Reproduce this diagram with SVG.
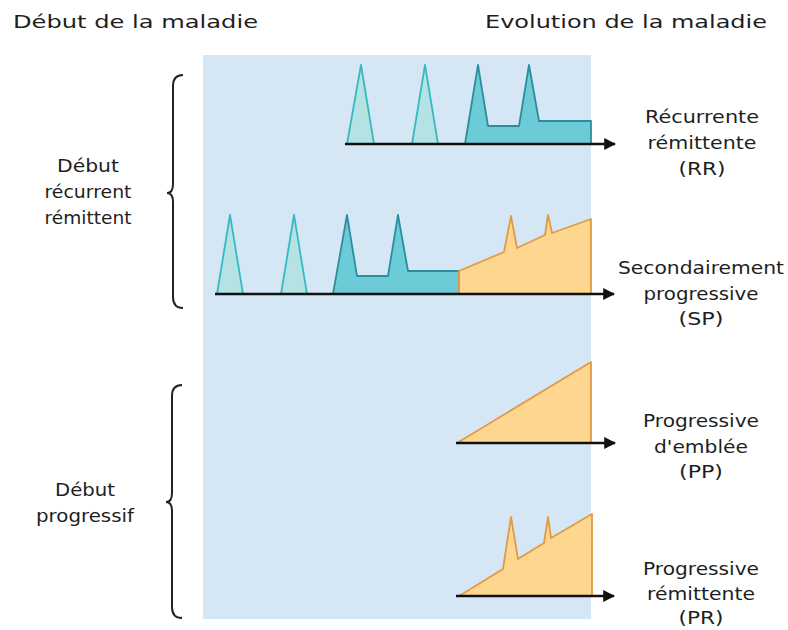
<svg xmlns="http://www.w3.org/2000/svg" width="788" height="630" viewBox="0 0 788 630">
<defs>
<style>
.t{font-family:"DejaVu Sans",Verdana,sans-serif;font-size:17.5px;fill:#1e1e1e}
.h{font-family:"DejaVu Sans",Verdana,sans-serif;font-size:18.5px;fill:#1e1e1e}
.lt{fill:#b5e3e3;stroke:#35b9c2;stroke-width:1.8;stroke-linejoin:round}
.dk{fill:#6ccbd6;stroke:#2a8e9e;stroke-width:1.8;stroke-linejoin:round}
.or{fill:#fdd68f;stroke:#e39a45;stroke-width:1.8;stroke-linejoin:round}
.ax{stroke:#111;stroke-width:2.5;fill:none}
.br{stroke:#222;stroke-width:2;fill:none}
</style>
<marker id="arr" viewBox="0 0 10 10" refX="9" refY="5" markerWidth="12" markerHeight="12" markerUnits="userSpaceOnUse" orient="auto">
<path d="M0,0 L10,5 L0,10 z" fill="#111"/>
</marker>
</defs>
<rect x="203" y="55" width="388" height="564" fill="#d5e6f5"/>
<text class="h" x="13" y="28" textLength="245" lengthAdjust="spacingAndGlyphs">Début de la maladie</text>
<text class="h" x="485" y="28" textLength="282" lengthAdjust="spacingAndGlyphs">Evolution de la maladie</text>

<g id="rr">
<polygon class="lt" points="347,144 361,65 374,144"/>
<polygon class="lt" points="412,144 425,65 438,144"/>
<polygon class="dk" points="465,144 478,65 488,126 519,126 529,65 539,121 591,121 591,144"/>
</g>
<g id="sp">
<polygon class="lt" points="217,294 230,215 243,294"/>
<polygon class="lt" points="281,294 294,215 307,294"/>
<polygon class="dk" points="333,294 347,215 357,276 388,276 398,215 408,271 459,271 459,294"/>
<polygon class="or" points="459,271 504,252 511,216 517,248 545,235 548,215 552,233 591,219 591,294 459,294"/>
</g>
<g id="pp">
<polygon class="or" points="457,443 591,362 591,443"/>
</g>
<g id="pr">
<polygon class="or" points="459,596 503,569 511,517 518,559 544,543 548,517 551,538 592,514 592,596"/>
</g>

<g id="connectors">
<line class="ax" x1="345" y1="144" x2="615" y2="144" marker-end="url(#arr)"/>
<line class="ax" x1="215" y1="294" x2="614" y2="294" marker-end="url(#arr)"/>
<line class="ax" x1="456" y1="443" x2="615" y2="443" marker-end="url(#arr)"/>
<line class="ax" x1="456" y1="596" x2="614" y2="596" marker-end="url(#arr)"/>
</g>

<g id="brace1">
<path class="br" d="M183,75 Q173,75 173,86 L173,184 Q173,193 167,193 Q173,193 173,202 L173,297 Q173,308 183,308"/>
</g>
<g id="brace2">
<path class="br" d="M182,385 Q172,385 172,396 L172,493 Q172,502 166,502 Q172,502 172,511 L172,607 Q172,618 182,618"/>
</g>

<g id="label-left1">
<text class="t" x="88" y="172" text-anchor="middle" textLength="62" lengthAdjust="spacingAndGlyphs">Début</text>
<text class="t" x="88" y="198" text-anchor="middle" textLength="87" lengthAdjust="spacingAndGlyphs">récurrent</text>
<text class="t" x="88" y="224" text-anchor="middle" textLength="87" lengthAdjust="spacingAndGlyphs">rémittent</text>
</g>
<g id="label-left2">
<text class="t" x="85" y="496" text-anchor="middle" textLength="60" lengthAdjust="spacingAndGlyphs">Début</text>
<text class="t" x="85" y="522" text-anchor="middle" textLength="98" lengthAdjust="spacingAndGlyphs">progressif</text>
</g>
<g id="label-rr">
<text class="t" x="702" y="123" text-anchor="middle" textLength="114" lengthAdjust="spacingAndGlyphs">Récurrente</text>
<text class="t" x="702" y="149" text-anchor="middle" textLength="109" lengthAdjust="spacingAndGlyphs">rémittente</text>
<text class="t" x="702" y="175" text-anchor="middle" textLength="47" lengthAdjust="spacingAndGlyphs">(RR)</text>
</g>
<g id="label-sp">
<text class="t" x="701" y="274" text-anchor="middle" textLength="166" lengthAdjust="spacingAndGlyphs">Secondairement</text>
<text class="t" x="701" y="300" text-anchor="middle" textLength="115" lengthAdjust="spacingAndGlyphs">progressive</text>
<text class="t" x="701" y="325" text-anchor="middle" textLength="45" lengthAdjust="spacingAndGlyphs">(SP)</text>
</g>
<g id="label-pp">
<text class="t" x="701" y="427" text-anchor="middle" textLength="116" lengthAdjust="spacingAndGlyphs">Progressive</text>
<text class="t" x="701" y="453" text-anchor="middle" textLength="94" lengthAdjust="spacingAndGlyphs">d'emblée</text>
<text class="t" x="701" y="478" text-anchor="middle" textLength="44" lengthAdjust="spacingAndGlyphs">(PP)</text>
</g>
<g id="label-pr">
<text class="t" x="701" y="575" text-anchor="middle" textLength="116" lengthAdjust="spacingAndGlyphs">Progressive</text>
<text class="t" x="701" y="600" text-anchor="middle" textLength="108" lengthAdjust="spacingAndGlyphs">rémittente</text>
<text class="t" x="701" y="624" text-anchor="middle" textLength="45" lengthAdjust="spacingAndGlyphs">(PR)</text>
</g>
</svg>
